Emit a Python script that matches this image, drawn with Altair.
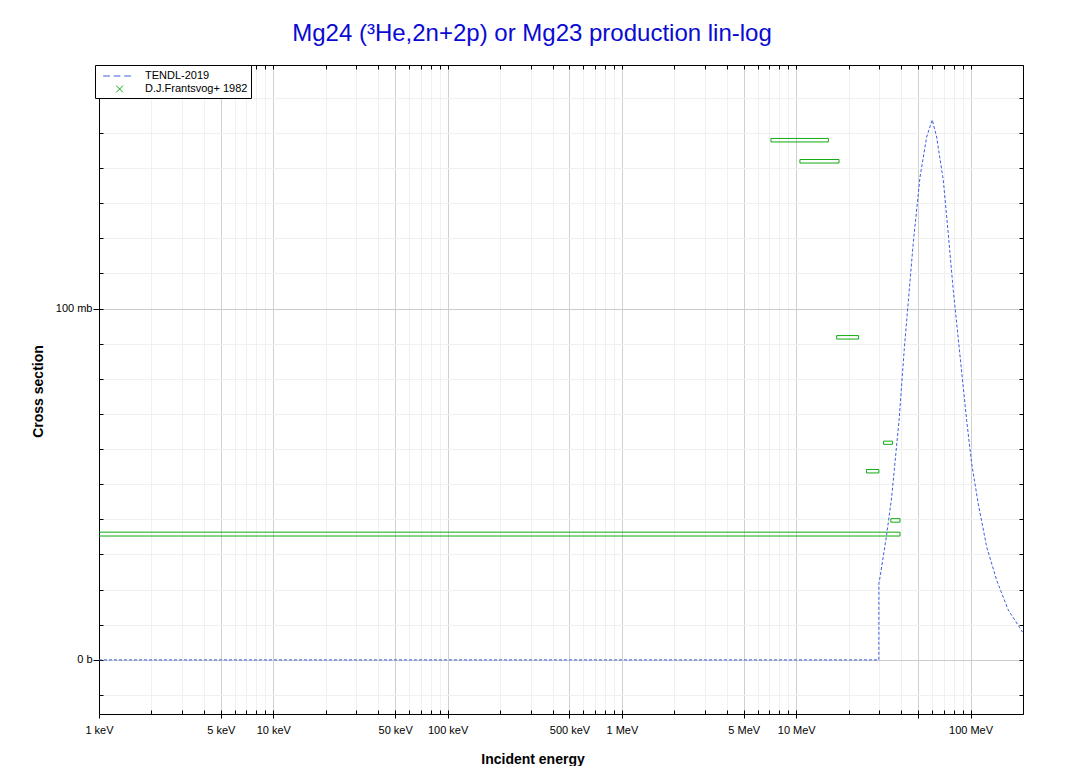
import altair as alt
import pandas as pd

# ---- TENDL-2019 evaluated curve (incident energy in MeV, cross section in mb)
tendl_E = [0.001, 29.8, 29.81, 30.3, 33.0, 35.3, 37.3, 38.9, 41.7, 46.9, 51.3,
           56.0, 60.3, 63.9, 69.8, 74.5, 79.6, 86.2, 95.0, 101.5, 110.6, 123.7,
           141.2, 164.6, 199.0]
tendl_sigma = [0, 0, 21.8, 23.7, 35.5, 46.4, 58.8, 68.2, 88.6, 118.5, 137.4,
               148.8, 153.7, 148.8, 136.5, 121.3, 105.2, 88.6, 68.2, 55.9, 44.6,
               32.2, 22.7, 14.2, 7.9]

# ---- D.J.Frantsvog+ 1982 measurements (energy range in MeV, sigma +- dsigma in mb)
exp_E_low = [7.16, 10.5, 17.06, 31.7, 25.3, 34.9, 0.0005]
exp_E_high = [15.3, 17.6, 22.8, 35.7, 29.8, 39.4, 39.4]
exp_sigma = [147.9, 141.9, 91.8, 61.8, 53.7, 39.7, 35.8]
exp_dsigma = [0.5, 0.5, 0.5, 0.45, 0.5, 0.5, 0.55]

series_names = ["TENDL-2019", "D.J.Frantsvog+ 1982"]
series_colors = ["#3b5fe0", "#11aa11"]
series_shapes = ["M-1.85,0H-0.95M-0.45,0H0.45M0.95,0H1.85",
                 "M-0.1,-0.45L0.8,0.45M-0.1,0.45L0.8,-0.45"]

# ---- axis ticks
x_domain = [0.001, 200]
y_domain = [-15.4, 169.3]
x_labeled = [0.001, 0.005, 0.01, 0.05, 0.1, 0.5, 1, 5, 10, 100]
x_major = x_labeled + [50]
x_all = [m * 10.0 ** e for e in range(-3, 3) for m in range(1, 10)] + [200]
y_labeled = [0, 100]
y_all = list(range(-10, 170, 10))

FONT = "Liberation Sans"

tendl_df = pd.DataFrame({"E": tendl_E, "sigma": tendl_sigma,
                         "i": list(range(len(tendl_E)))})
exp_df = pd.DataFrame({
    "lo": exp_E_low, "hi": exp_E_high,
    "y1": [s - d for s, d in zip(exp_sigma, exp_dsigma)],
    "y2": [s + d for s, d in zip(exp_sigma, exp_dsigma)],
})
leg_df = pd.DataFrame({"series": series_names, "x": [0.001, 0.001], "y": [0, 0]})

xscale = alt.Scale(type="log", domain=x_domain, nice=False, zero=False)
yscale = alt.Scale(domain=y_domain, nice=False, zero=False)

major_test = ("abs(datum.value/pow(10, floor(log(datum.value)/LN10 + 1e-9)) - 1) < 1e-6 || "
              "abs(datum.value/pow(10, floor(log(datum.value)/LN10 + 1e-9)) - 5) < 1e-6")

# Axis set 1: labels, titles, outward major ticks, bottom/left frame
x_axis_main = alt.Axis(
    orient="bottom", values=x_major, grid=False, tickSize=4, tickColor="black",
    domainColor="black", domainWidth=1,
    labelExpr="datum.value == 50 ? '' : (datum.value >= 1 ? datum.value + ' MeV' : round(datum.value*1000) + ' keV')",
    labelFont=FONT, labelFontSize=11, labelColor="black", labelPadding=6,
    labelFlush=False, labelOverlap=False,
    title="Incident energy", titleFont=FONT, titleFontSize=14, titleFontWeight="bold",
    titleColor="black", titleX=433.5, titleY=49, titleAlign="center",
    titleBaseline="alphabetic",
)
y_axis_main = alt.Axis(
    orient="left", values=y_labeled, grid=False, tickSize=6, tickColor="black",
    domainColor="black", domainWidth=1,
    labelExpr="datum.value == 0 ? '0 b' : datum.value + ' mb'",
    labelFont=FONT, labelFontSize=11, labelColor="black", labelPadding=1,
    title="Cross section", titleFont=FONT, titleFontSize=14, titleFontWeight="bold",
    titleColor="black", titleX=-57, titleY=326, titleAngle=270, titleAlign="center",
    titleBaseline="alphabetic",
)

# Axis set 2: grid + inward minor ticks
x_axis_grid = alt.Axis(
    orient="bottom", values=x_all, labels=False, title=None, domain=False,
    tickSize={"expr": "-4"}, tickColor="black", grid=True,
    gridColor={"condition": {"test": major_test, "value": "#d0d0d0"}, "value": "#f0f0f0"},
)
y_axis_grid = alt.Axis(
    orient="left", values=y_all, labels=False, title=None, domain=False,
    tickSize={"expr": "-4"}, tickColor="black", grid=True,
    gridColor={"condition": {"test": "datum.value == 0 || datum.value == 100", "value": "#cccccc"},
               "value": "#f0f0f0"},
)

# Axis set 3: top/right frame with inward ticks
x_axis_top = alt.Axis(
    orient="top", values=x_all, labels=False, title=None, grid=False,
    tickSize={"expr": "-4"}, tickColor="black", domainColor="black", domainWidth=1,
)
y_axis_right = alt.Axis(
    orient="right", values=y_all, labels=False, title=None, grid=False,
    tickSize={"expr": "-4"}, tickColor="black", domainColor="black", domainWidth=1,
)

tendl_line = alt.Chart(tendl_df).mark_line(
    color=series_colors[0], strokeWidth=1, strokeDash=[3, 2], clip=True
).encode(
    x=alt.X("E:Q", scale=xscale, axis=x_axis_main),
    y=alt.Y("sigma:Q", scale=yscale, axis=y_axis_main),
    order=alt.Order("i:Q"),
)

exp_boxes = alt.Chart(exp_df).mark_rect(
    stroke=series_colors[1], strokeWidth=1, fillOpacity=0, clip=True
).encode(
    x=alt.X("lo:Q", scale=xscale, axis=x_axis_grid),
    x2="hi:Q",
    y=alt.Y("y1:Q", scale=yscale, axis=y_axis_grid),
    y2="y2:Q",
)

leg = alt.Legend(
    title=None, orient="none", legendX=-4, legendY=0,
    strokeColor="black", fillColor="white", padding=3, rowPadding=0,
    labelFont=FONT, labelFontSize=11, labelColor="black", labelLimit=300,
    symbolOpacity=1, symbolSize=225, symbolStrokeWidth=1,
    symbolOffset=11, labelOffset=20,
)

legend_layer = alt.Chart(leg_df).mark_point(filled=False, opacity=0, size=225).encode(
    x=alt.X("x:Q", scale=xscale, axis=x_axis_top),
    y=alt.Y("y:Q", scale=yscale, axis=y_axis_right),
    color=alt.Color("series:N", scale=alt.Scale(domain=series_names, range=series_colors), legend=leg),
    shape=alt.Shape("series:N", scale=alt.Scale(domain=series_names, range=series_shapes), legend=leg),
)

chart = alt.layer(tendl_line, exp_boxes, legend_layer).resolve_axis(
    x="independent", y="independent"
).properties(
    width=924, height=649,
    autosize=alt.AutoSizeParams(type="none"),
    padding={"left": 91, "top": 57, "right": 30, "bottom": 52},
    title=alt.TitleParams(
        text="Mg24 (³He,2n+2p) or Mg23 production lin-log",
        font=FONT, fontSize=24, fontWeight="normal", color="#0a0ad2",
        anchor="middle", frame="group", dx=-29, dy=23, offset=23, baseline="alphabetic",
    ),
).configure_view(stroke="transparent")

chart.save("out.html", embed_options={"renderer": "svg", "actions": False})
